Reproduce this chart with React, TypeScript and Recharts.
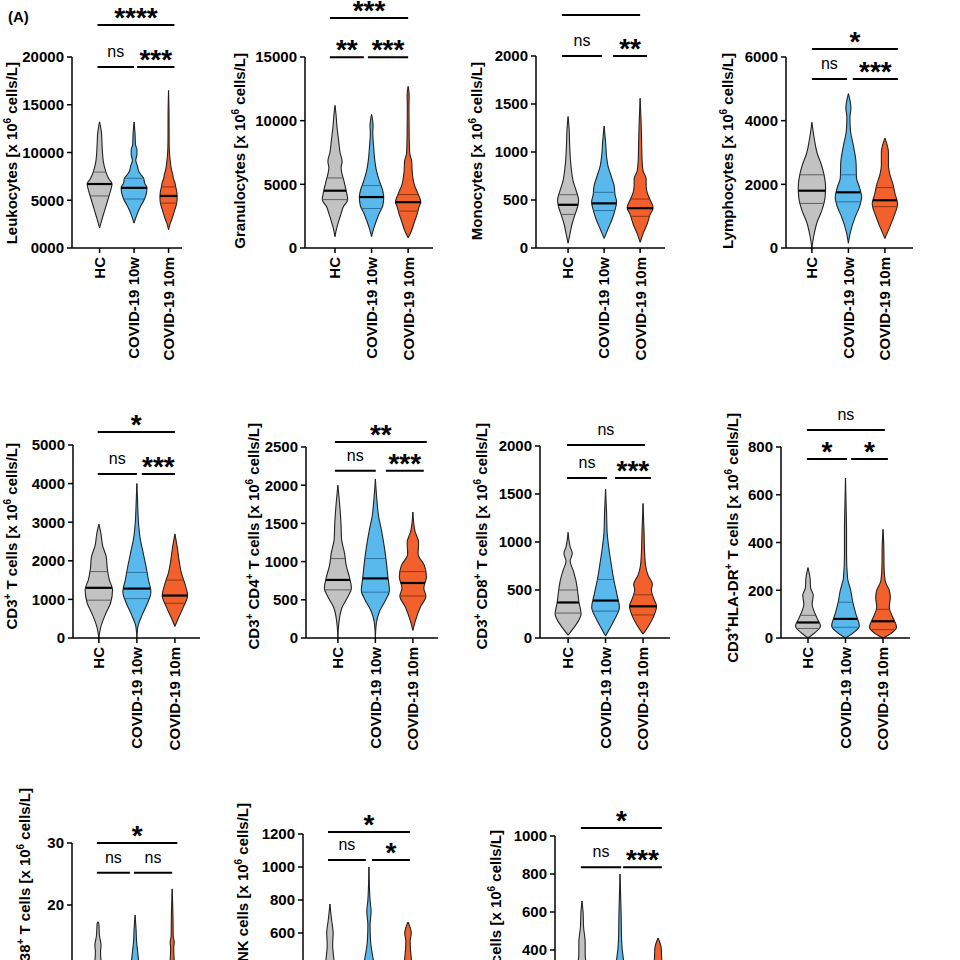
import React from "react";
import { ComposedChart, Area, XAxis, YAxis, ReferenceLine } from "recharts";

const FONT = '"Liberation Sans", Arial, Helvetica, sans-serif';

const groups = ["HC", "COVID-19 10w", "COVID-19 10m"];
const groupPos = [1, 2, 3];
const fills = ["#c2c2c2", "#5ab9ec", "#f2612c"];
const quartColors = ["#555555", "#246a96", "#86300f"];

type Pair = [number, number]; // [value, density]
type Bracket = [number, number, number, string]; // [from group, to group, level, text]

// ---- Leukocytes
const leukHC: Pair[] = [[2100, 0], [3000, 2.5], [4000, 5.5], [5000, 8.5], [5500, 10], [6200, 12], [6700, 13], [7200, 10], [7600, 8], [8000, 6.5], [9000, 4], [10000, 3], [11000, 2.5], [12000, 2], [13200, 0]];
const leukW10: Pair[] = [[2600, 0], [3500, 3], [4500, 7.5], [5100, 10.8], [5800, 13], [6300, 13.5], [6800, 11], [7300, 10], [7700, 7], [8000, 5], [8600, 3.5], [9200, 1.8], [9800, 3], [10300, 3], [10800, 1.5], [12000, 1], [13200, 0]];
const leukM10: Pair[] = [[1900, 0], [2500, 1.5], [2900, 3], [4000, 6.5], [4700, 8.5], [5400, 9], [5900, 8.5], [6400, 7.5], [6900, 6.5], [7300, 5], [7650, 4.5], [8200, 3], [8900, 2], [9900, 1], [11000, 0.6], [14000, 0.5], [16500, 0]];
const leukMed = [6700, 6300, 5450];
const leukQ1 = [5450, 5130, 4700];
const leukQ3 = [7950, 7300, 6400];
const leukTicks = [0, 5000, 10000, 15000, 20000];
const leukSig: Bracket[] = [[0.94, 3.17, 23350, "****"], [0.94, 2.0, 18950, "ns"], [2.09, 3.17, 18950, "***"]];

// ---- Granulocytes
const granHC: Pair[] = [[900, 0], [1500, 1.5], [2200, 4], [2700, 6], [3200, 8], [3800, 12.5], [4500, 11], [5200, 9], [5800, 7], [6300, 6], [6800, 7], [7500, 5], [8500, 3.5], [9500, 2], [10500, 1], [11200, 0]];
const granW10: Pair[] = [[900, 0], [1500, 2], [2200, 5], [2800, 8], [3300, 11], [4000, 12], [4500, 11], [5200, 8], [6000, 5], [7000, 3], [8000, 2], [9000, 1.2], [9600, 1.5], [10500, 0]];
const granM10: Pair[] = [[800, 0], [1300, 3], [2000, 6], [2700, 9], [3300, 11], [3600, 12.5], [4200, 10], [5000, 6], [6000, 4], [6800, 3.5], [7500, 1.5], [9000, 1], [11000, 0.8], [12000, 1], [12700, 0]];
const granMed = [4500, 4000, 3600];
const granQ1 = [3800, 3100, 2900];
const granQ3 = [5500, 4900, 4200];
const granTicks = [0, 5000, 10000, 15000];
const granSig: Bracket[] = [[0.86, 3.0, 18060, "***"], [0.86, 1.79, 14990, "**"], [1.9, 3.0, 14990, "***"]];

// ---- Monocytes
const monoHC: Pair[] = [[50, 0], [150, 2], [250, 4], [350, 7], [450, 10], [500, 10.5], [600, 8], [700, 5], [800, 3.5], [900, 2.5], [1100, 1.5], [1250, 1], [1370, 0]];
const monoW10: Pair[] = [[100, 0], [200, 4], [300, 8], [400, 11], [480, 12.5], [550, 11], [650, 10], [750, 7], [850, 4], [950, 2.5], [1100, 1.5], [1270, 0]];
const monoM10: Pair[] = [[60, 0], [150, 3], [250, 7], [350, 10], [420, 13], [500, 10], [580, 7], [650, 6], [720, 6], [800, 3], [900, 2], [1100, 1.5], [1300, 1], [1560, 0]];
const monoMed = [450, 465, 415];
const monoQ1 = [350, 390, 330];
const monoQ3 = [555, 580, 510];
const monoTicks = [0, 500, 1000, 1500, 2000];
const monoSig: Bracket[] = [[0.83, 3.0, 2427, ""], [0.83, 1.94, 2000, "ns"], [2.25, 3.19, 2000, "**"]];

// ---- Lymphocytes
const lymHC: Pair[] = [[0, 0], [400, 2], [800, 5], [1200, 10], [1600, 13], [1900, 13.5], [2300, 12], [2600, 9.5], [3000, 5], [3400, 2.5], [3950, 0]];
const lymW10: Pair[] = [[150, 0], [500, 2], [1000, 7], [1300, 11], [1600, 13], [1900, 11], [2200, 8], [2700, 7.5], [3200, 5], [3700, 2], [4100, 1.5], [4400, 2.5], [4850, 0]];
const lymM10: Pair[] = [[300, 0], [600, 4], [1000, 9], [1400, 12.5], [1700, 10], [2000, 8], [2300, 5], [2600, 3.5], [3000, 3.5], [3450, 0]];
const lymMed = [1800, 1750, 1500];
const lymQ1 = [1400, 1450, 1300];
const lymQ3 = [2300, 2300, 1900];
const lymTicks = [0, 2000, 4000, 6000];
const lymSig: Bracket[] = [[1.0, 3.36, 6250, "*"], [1.0, 1.96, 5310, "ns"], [2.12, 3.36, 5310, "***"]];

// ---- CD3+ T cells
const cd3HC: Pair[] = [[0, 0], [300, 2], [600, 6], [900, 11], [1250, 13], [1500, 10], [1800, 8], [2100, 7], [2400, 3.5], [2700, 2], [2950, 0]];
const cd3W10: Pair[] = [[0, 0], [300, 1], [600, 5], [900, 10], [1200, 13.3], [1500, 11], [1800, 9], [2200, 6], [2600, 3], [3000, 1.5], [3500, 0.7], [4000, 0]];
const cd3M10: Pair[] = [[300, 0], [500, 3], [800, 8], [1100, 12], [1400, 9.5], [1700, 6], [2000, 4], [2300, 2.5], [2700, 0]];
const cd3Med = [1300, 1280, 1100];
const cd3Q1 = [980, 1020, 900];
const cd3Q3 = [1720, 1700, 1500];
const cd3Ticks = [0, 1000, 2000, 3000, 4000, 5000];
const cd3Sig: Bracket[] = [[0.97, 3.0, 5340, "*"], [0.97, 2.0, 4250, "ns"], [2.13, 3.0, 4250, "***"]];

// ---- CD3+ CD4+ T cells
const cd4HC: Pair[] = [[0, 0], [200, 1], [400, 4], [550, 10], [650, 13], [800, 11], [950, 8], [1100, 6.5], [1300, 3.5], [1500, 3], [1700, 2], [2000, 0]];
const cd4W10: Pair[] = [[0, 0], [200, 1], [350, 4], [500, 10], [620, 13.5], [800, 12], [1000, 10.5], [1200, 8.5], [1400, 6], [1600, 3], [1800, 1.5], [2080, 0]];
const cd4M10: Pair[] = [[100, 0], [250, 3], [400, 7], [550, 12.5], [650, 10.5], [800, 13], [950, 11], [1100, 5], [1250, 5.5], [1400, 2], [1650, 0]];
const cd4Med = [760, 780, 720];
const cd4Q1 = [630, 600, 550];
const cd4Q3 = [1040, 1040, 870];
const cd4Ticks = [0, 500, 1000, 1500, 2000, 2500];
const cd4Sig: Bracket[] = [[0.92, 3.37, 2565, "**"], [0.92, 2.01, 2190, "ns"], [2.28, 3.29, 2190, "***"]];

// ---- CD3+ CD8+ T cells
const cd8HC: Pair[] = [[30, 0], [100, 5], [200, 11], [250, 12.5], [370, 10.5], [500, 9], [600, 7.5], [700, 5], [800, 2], [880, 4], [950, 2], [1100, 0]];
const cd8W10: Pair[] = [[20, 0], [100, 4], [200, 9], [320, 13.3], [450, 11], [600, 8], [800, 5], [950, 3], [1100, 1.5], [1300, 1], [1550, 0]];
const cd8M10: Pair[] = [[40, 0], [120, 5], [220, 10], [330, 13], [420, 10], [500, 8], [560, 9], [650, 5], [750, 2.5], [900, 1.5], [1100, 1], [1400, 0]];
const cd8Med = [370, 390, 330];
const cd8Q1 = [260, 280, 240];
const cd8Q3 = [500, 610, 450];
const cd8Ticks = [0, 500, 1000, 1500, 2000];
const cd8Sig: Bracket[] = [[0.97, 3.05, 2010, "ns"], [0.97, 2.04, 1667, "ns"], [2.25, 3.21, 1667, "***"]];

// ---- CD3+HLA-DR+ T cells
const hlaHC: Pair[] = [[0, 0], [20, 6], [50, 12], [80, 9], [110, 6], [140, 4], [180, 5], [210, 2.5], [250, 2], [295, 0]];
const hlaW10: Pair[] = [[0, 0], [20, 7], [50, 13.3], [100, 10], [150, 7], [200, 5], [250, 2], [350, 1], [450, 1], [550, 0.6], [670, 0]];
const hlaM10: Pair[] = [[0, 0], [20, 8], [45, 13], [90, 9], [130, 6], [170, 7], [200, 6], [240, 2], [300, 1], [380, 0.8], [455, 0]];
const hlaMed = [65, 80, 70];
const hlaQ1 = [40, 45, 35];
const hlaQ3 = [95, 150, 120];
const hlaTicks = [0, 200, 400, 600, 800];
const hlaSig: Bracket[] = [[0.97, 3.05, 871, "ns"], [0.97, 2.04, 750, "*"], [2.15, 3.13, 750, "*"]];

// ---- CD38+ T cells
const cd38HC: Pair[] = [[0, 0], [1, 6], [3, 12], [5, 12], [7, 8], [9, 5], [11, 3], [12.5, 2.5], [13.5, 3], [15, 1.5], [17, 0.8], [17.3, 0]];
const cd38W10: Pair[] = [[0, 0], [1, 7], [3, 13], [5, 12], [7, 9], [9, 6], [11, 3.5], [12.5, 2.5], [14, 1.5], [16, 1], [18.4, 0]];
const cd38M10: Pair[] = [[0, 0], [1, 8], [3, 13], [5, 11], [7, 7], [9, 4], [11, 2], [13, 1.5], [14, 2], [15, 1], [18, 0.8], [22.6, 0]];
const cd38Med = [5, 5.5, 4.5];
const cd38Q1 = [3, 3.5, 3];
const cd38Q3 = [8, 8.5, 7];
const cd38Ticks = [0, 10, 20, 30];
const cd38Sig: Bracket[] = [[0.97, 3.14, 30, "*"], [0.97, 1.86, 25.2, "ns"], [1.97, 3.0, 25.2, "ns"]];

// ---- NK cells
const nkHC: Pair[] = [[0, 0], [50, 6], [150, 13], [250, 11], [350, 6], [450, 3.5], [530, 2.5], [600, 3], [680, 1.5], [776, 0]];
const nkW10: Pair[] = [[0, 0], [50, 6], [150, 13], [250, 12], [350, 7], [440, 4], [550, 1.5], [650, 1], [730, 2], [800, 1], [1000, 0]];
const nkM10: Pair[] = [[0, 0], [50, 7], [150, 13], [250, 11], [350, 6], [450, 3], [550, 2], [600, 3], [667, 0]];
const nkMed = [200, 210, 180];
const nkQ1 = [130, 140, 120];
const nkQ3 = [300, 310, 270];
const nkTicks = [0, 200, 400, 600, 800, 1000, 1200];
const nkSig: Bracket[] = [[0.95, 3.05, 1212, "*"], [0.95, 1.92, 1042, "ns"], [2.08, 3.05, 1042, "*"]];

// ---- B cells
const bHC: Pair[] = [[0, 0], [30, 8], [100, 13], [200, 10], [300, 5], [380, 3], [440, 3], [520, 1.5], [600, 1], [658, 0]];
const bW10: Pair[] = [[0, 0], [30, 8], [100, 13], [200, 10], [300, 5], [360, 3], [450, 1.5], [600, 1], [800, 0]];
const bM10: Pair[] = [[0, 0], [30, 8], [100, 13], [200, 10], [300, 5], [350, 3.5], [410, 3], [463, 0]];
const bMed = [110, 120, 95];
const bQ1 = [70, 80, 60];
const bQ3 = [170, 190, 150];
const bTicks = [0, 200, 400, 600, 800, 1000];
const bSig: Bracket[] = [[0.97, 3.1, 1042, "*"], [0.97, 2.03, 836, "ns"], [2.08, 3.1, 836, "***"]];

const DENSITY_TO_UNITS = 1 / 36;
const PAD_L = 70;
const PAD_T = 70;
const PAD_R = 10;
const X_H = 120;
const PAGE_H = 960;

interface PanelDef {
  label: React.ReactNode;
  violins: Pair[][];
  med: number[];
  q1: number[];
  q3: number[];
  ticks: number[];
  sig: Bracket[];
  zero?: string;
  ax: number;
  right: number;
  top: number;
  bottom: number;
  xDomain: [number, number];
  labelX: number;
  labelY: number;
}

const sup = (s: string) => <sup style={{ fontSize: 10, lineHeight: 0 }}>{s}</sup>;
const unit = <> [x 10{sup("6")} cells/L]</>;

const panels: PanelDef[] = [
  { label: <>Leukocytes{unit}</>, violins: [leukHC, leukW10, leukM10], med: leukMed, q1: leukQ1, q3: leukQ3, ticks: leukTicks, sig: leukSig, zero: "0000", ax: 72, right: 182, top: 57, bottom: 248, xDomain: [0.2, 3.39], labelX: 12, labelY: 62 },
  { label: <>Granulocytes{unit}</>, violins: [granHC, granW10, granM10], med: granMed, q1: granQ1, q3: granQ3, ticks: granTicks, sig: granSig, ax: 305, right: 433, top: 57, bottom: 248, xDomain: [0.18, 3.68], labelX: 240, labelY: 53 },
  { label: <>Monocytes{unit}</>, violins: [monoHC, monoW10, monoM10], med: monoMed, q1: monoQ1, q3: monoQ3, ticks: monoTicks, sig: monoSig, ax: 536, right: 665, top: 56, bottom: 248, xDomain: [0.11, 3.69], labelX: 477, labelY: 62 },
  { label: <>Lymphocytes{unit}</>, violins: [lymHC, lymW10, lymM10], med: lymMed, q1: lymQ1, q3: lymQ3, ticks: lymTicks, sig: lymSig, ax: 786, right: 913, top: 57, bottom: 248, xDomain: [0.29, 3.77], labelX: 728, labelY: 53 },
  { label: <>CD3{sup("+")} T cells{unit}</>, violins: [cd3HC, cd3W10, cd3M10], med: cd3Med, q1: cd3Q1, q3: cd3Q3, ticks: cd3Ticks, sig: cd3Sig, ax: 73, right: 200, top: 445, bottom: 638, xDomain: [0.32, 3.66], labelX: 12, labelY: 443 },
  { label: <>CD3{sup("+")} CD4{sup("+")} T cells{unit}</>, violins: [cd4HC, cd4W10, cd4M10], med: cd4Med, q1: cd4Q1, q3: cd4Q3, ticks: cd4Ticks, sig: cd4Sig, ax: 306, right: 438, top: 447, bottom: 638, xDomain: [0.15, 3.67], labelX: 254, labelY: 423 },
  { label: <>CD3{sup("+")} CD8{sup("+")} T cells{unit}</>, violins: [cd8HC, cd8W10, cd8M10], med: cd8Med, q1: cd8Q1, q3: cd8Q3, ticks: cd8Ticks, sig: cd8Sig, ax: 540, right: 670, top: 446, bottom: 638, xDomain: [0.25, 3.72], labelX: 482, labelY: 423 },
  { label: <>CD3{sup("+")}HLA-DR{sup("+")} T cells{unit}</>, violins: [hlaHC, hlaW10, hlaM10], med: hlaMed, q1: hlaQ1, q3: hlaQ3, ticks: hlaTicks, sig: hlaSig, ax: 781, right: 910, top: 447, bottom: 638, xDomain: [0.28, 3.72], labelX: 733, labelY: 413 },
  { label: <>CD3{sup("+")}HLA-DR{sup("+")}CD38{sup("+")} T cells{unit}</>, violins: [cd38HC, cd38W10, cd38M10], med: cd38Med, q1: cd38Q1, q3: cd38Q3, ticks: cd38Ticks, sig: cd38Sig, ax: 72, right: 200, top: 843, bottom: 1029, xDomain: [0.3, 3.75], labelX: 25, labelY: 788 },
  { label: <>CD3{sup("-")}CD56{sup("+")} NK cells{unit}</>, violins: [nkHC, nkW10, nkM10], med: nkMed, q1: nkQ1, q3: nkQ3, ticks: nkTicks, sig: nkSig, ax: 303, right: 440, top: 834, bottom: 1032, xDomain: [0.31, 3.82], labelX: 243, labelY: 803 },
  { label: <>CD19{sup("+")} B cells{unit}</>, violins: [bHC, bW10, bM10], med: bMed, q1: bQ1, q3: bQ3, ticks: bTicks, sig: bSig, ax: 555, right: 690, top: 836, bottom: 1026, xDomain: [0.29, 3.84], labelX: 496, labelY: 830 },
];

// one row per value level; each group gets [left, right] edges or nulls
function buildRows(violins: Pair[][]) {
  const levels = Array.from(new Set(violins.flatMap((v) => v.map((p) => p[0])))).sort((a, b) => a - b);
  return levels.map((v) => {
    const row: Record<string, any> = { v };
    violins.forEach((prof, i) => {
      const hit = prof.find((p) => p[0] === v);
      const w = hit ? hit[1] * DENSITY_TO_UNITS : null;
      row["g" + i] = w === null ? [null, null] : [groupPos[i] - w, groupPos[i] + w];
    });
    return row;
  });
}

function halfWidthAt(prof: Pair[], v: number) {
  for (let i = 1; i < prof.length; i++) {
    const [a, wa] = prof[i - 1];
    const [b, wb] = prof[i];
    if (v >= a && v <= b) return (wa + ((wb - wa) * (v - a)) / (b - a)) * DENSITY_TO_UNITS;
  }
  return 0;
}

function GroupTick(props: any) {
  const { x, y, payload } = props;
  const ty = y + 2;
  return (
    <text x={x} y={ty} transform={`rotate(-90 ${x} ${ty})`} textAnchor="end" dy="0.36em" fill="#000" fontSize={15} fontWeight={700} fontFamily={FONT}>
      {groups[payload.value - 1]}
    </text>
  );
}

function sigLabel(text: string) {
  const stars = text.includes("*");
  return {
    value: text,
    position: "top" as const,
    offset: stars ? -2 : 10,
    fill: "#000",
    fontSize: stars ? 28 : 16,
    fontWeight: stars ? 700 : 400,
    fontFamily: FONT,
  };
}

function ViolinPanel({ p }: { p: PanelDef }) {
  const plotW = p.right - p.ax;
  const plotH = p.bottom - p.top;
  const W = PAD_L + plotW + PAD_R;
  const H = PAD_T + plotH + X_H;
  const rows = buildRows(p.violins);
  const ymax = p.ticks[p.ticks.length - 1];
  // group labels of the cropped bottom row fall below the page
  const showGroupLabels = p.bottom < PAGE_H;

  return (
    <>
      <div style={{ position: "absolute", left: p.ax - PAD_L, top: p.top - PAD_T }}>
        <ComposedChart layout="vertical" width={W} height={H} data={rows} margin={{ top: PAD_T, right: PAD_R, bottom: 0, left: 0 }}>
          <XAxis
            type="number"
            domain={p.xDomain}
            ticks={groupPos}
            interval={0}
            allowDataOverflow
            height={X_H}
            tick={showGroupLabels ? GroupTick : false}
            tickSize={5}
            tickLine={{ stroke: "#000", strokeWidth: 1.5 }}
            axisLine={{ stroke: "#000", strokeWidth: 1.5 }}
          />
          <YAxis
            type="number"
            dataKey="v"
            reversed
            domain={[0, ymax]}
            ticks={p.ticks}
            interval={0}
            allowDataOverflow
            width={PAD_L}
            tickSize={5}
            tickMargin={3}
            tickLine={{ stroke: "#000", strokeWidth: 1.5 }}
            axisLine={{ stroke: "#000", strokeWidth: 1.5 }}
            tick={{ fill: "#000", fontSize: 15, fontWeight: 700, fontFamily: FONT }}
            tickFormatter={(t: number) => (t === 0 && p.zero ? p.zero : String(t))}
          />
          {p.violins.map((_, i) => (
            <Area
              key={"v" + i}
              dataKey={"g" + i}
              type="monotone"
              connectNulls
              fill={fills[i]}
              fillOpacity={1}
              stroke="#222"
              strokeWidth={1.1}
              dot={false}
              activeDot={false}
              isAnimationActive={false}
            />
          ))}
          {p.violins.map((prof, i) =>
            [p.q1[i], p.q3[i]].map((q, k) => {
              const w = halfWidthAt(prof, q);
              return (
                <ReferenceLine
                  key={`q${i}-${k}`}
                  segment={[{ x: groupPos[i] - w, y: q }, { x: groupPos[i] + w, y: q }]}
                  stroke={quartColors[i]}
                  strokeWidth={0.9}
                />
              );
            })
          )}
          {p.violins.map((prof, i) => {
            const w = halfWidthAt(prof, p.med[i]);
            return (
              <ReferenceLine
                key={"m" + i}
                segment={[{ x: groupPos[i] - w, y: p.med[i] }, { x: groupPos[i] + w, y: p.med[i] }]}
                stroke="#000"
                strokeWidth={2.2}
              />
            );
          })}
          {p.sig.map(([a, b, level, text], k) => (
            <ReferenceLine
              key={"s" + k}
              segment={[{ x: a, y: level }, { x: b, y: level }]}
              stroke="#000"
              strokeWidth={2}
              ifOverflow="visible"
              label={text ? sigLabel(text) : undefined}
            />
          ))}
        </ComposedChart>
      </div>
      <div
        style={{
          position: "absolute",
          left: p.labelX,
          top: p.labelY,
          transformOrigin: "0 0",
          transform: "rotate(-90deg) translate(-100%, -50%)",
          whiteSpace: "nowrap",
          fontFamily: FONT,
          fontWeight: 700,
          fontSize: 15,
          lineHeight: "18px",
          color: "#000",
        }}
      >
        {p.label}
      </div>
    </>
  );
}

export default function App() {
  return (
    <div style={{ position: "absolute", left: 0, top: 0, width: 960, height: 960, overflow: "hidden", background: "#fff", fontFamily: FONT }}>
      <div style={{ position: "absolute", left: 8, top: 8, fontWeight: 700, fontSize: 15, color: "#000" }}>(A)</div>
      {panels.map((p, i) => (
        <ViolinPanel key={i} p={p} />
      ))}
    </div>
  );
}
